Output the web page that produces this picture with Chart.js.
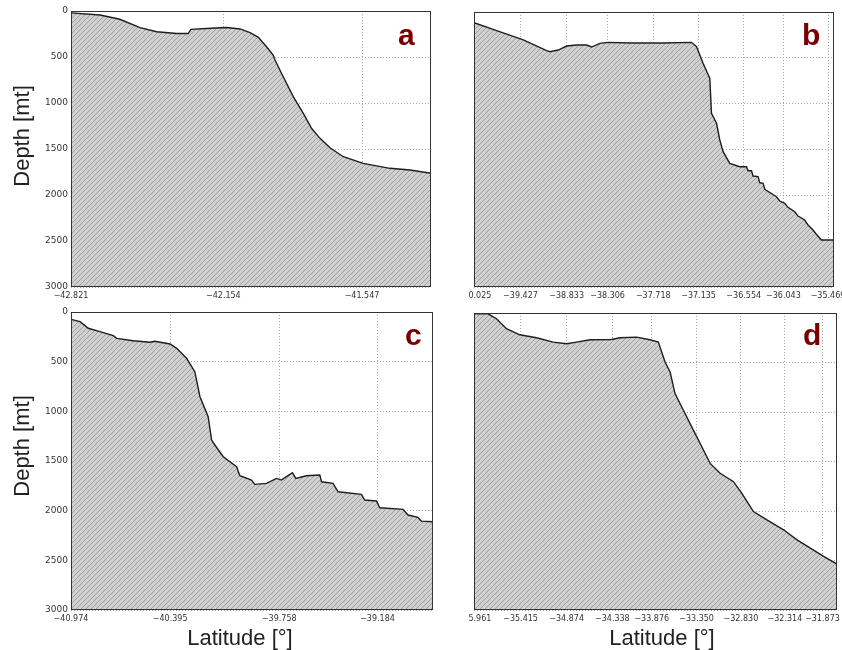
<!DOCTYPE html>
<html>
<head>
<meta charset="utf-8">
<script src="https://cdn.jsdelivr.net/npm/chart.js@4.4.1/dist/chart.umd.min.js"></script>
<style>
  html, body { margin: 0; padding: 0; background: #fff; }
  #wrap { position: relative; width: 842px; height: 650px; overflow: hidden; background: #fff; }
  canvas { position: absolute; }
  .lbl { position: absolute; font-family: "Liberation Sans", Arial, sans-serif; font-size: 22px; color: #222; white-space: nowrap; transform: translate(-50%, -50%); }
  .rot { transform: translate(-50%, -50%) rotate(-90deg); }
</style>
</head>
<body>
<div id="wrap">
  <canvas id="cA" width="440" height="300" style="left:0;top:0"></canvas>
  <canvas id="cB" width="373" height="300" style="left:469px;top:0"></canvas>
  <canvas id="cC" width="440" height="350" style="left:0;top:300px"></canvas>
  <canvas id="cD" width="373" height="350" style="left:469px;top:300px"></canvas>
  <div class="lbl rot" style="left:22px;top:136px">Depth [mt]</div>
  <div class="lbl rot" style="left:22px;top:446px">Depth [mt]</div>
  <div class="lbl" style="left:240px;top:638px">Latitude [°]</div>
  <div class="lbl" style="left:662px;top:638px">Latitude [°]</div>
</div>
<script>
// ---------- DATA ----------
// Panel a
const latA   = [-42.821,-42.694,-42.607,-42.519,-42.446,-42.358,-42.308,-42.296,-42.227,-42.140,-42.081,-42.037,-42.001,-41.965,-41.936,-41.928,-41.892,-41.848,-41.804,-41.768,-41.731,-41.687,-41.629,-41.542,-41.425,-41.337,-41.245];
const depthA = [20,43,90,180,225,245,245,200,190,180,195,235,287,388,478,533,714,931,1112,1275,1384,1486,1584,1656,1710,1728,1764];
const tickLatA   = [-42.821,-42.154,-41.547];
const tickLabelA = ["\u221242.821","\u221242.154","\u221241.547"];

// Panel b
const latB   = [-40.025,-39.733,-39.391,-39.090,-39.048,-38.941,-38.833,-38.704,-38.576,-38.512,-38.405,-38.298,-38.019,-37.591,-37.226,-37.161,-37.077,-36.990,-36.969,-36.904,-36.862,-36.819,-36.733,-36.605,-36.518,-36.498,-36.454,-36.434,-36.369,-36.348,-36.305,-36.283,-36.133,-36.090,-36.026,-35.984,-35.897,-35.855,-35.769,-35.726,-35.662,-35.619,-35.554,-35.392];
const depthB = [116,204,305,422,433,415,371,360,360,382,342,331,338,338,331,378,560,724,1105,1214,1396,1524,1651,1688,1688,1731,1731,1789,1796,1862,1869,1934,2015,2062,2087,2131,2179,2226,2269,2324,2378,2425,2487,2487];
const tickLatB   = [-40.025,-39.427,-38.833,-38.306,-37.718,-37.135,-36.554,-36.043,-35.469];
const tickLabelB = ["\u221240.025","\u221239.427","\u221238.833","\u221238.306","\u221237.718","\u221237.135","\u221236.554","\u221236.043","\u221235.469"];

// Panel c
const latC   = [-40.974,-40.921,-40.873,-40.805,-40.727,-40.707,-40.611,-40.513,-40.484,-40.396,-40.357,-40.299,-40.251,-40.221,-40.173,-40.153,-40.134,-40.085,-40.007,-39.988,-39.920,-39.901,-39.832,-39.774,-39.745,-39.716,-39.681,-39.661,-39.599,-39.521,-39.511,-39.444,-39.414,-39.278,-39.259,-39.190,-39.171,-39.035,-39.006,-38.948,-38.928,-38.860];
const depthC = [74,97,164,198,238,265,289,305,295,322,366,466,601,853,1054,1289,1339,1457,1558,1648,1692,1735,1725,1675,1692,1658,1618,1675,1648,1641,1709,1725,1810,1836,1893,1903,1971,1987,2044,2068,2105,2112];
const tickLatC   = [-40.974,-40.395,-39.758,-39.184];
const tickLabelC = ["\u221240.974","\u221240.395","\u221239.758","\u221239.184"];

// Panel d
const latD   = [-35.961,-35.796,-35.698,-35.580,-35.424,-35.228,-35.033,-34.875,-34.758,-34.601,-34.346,-34.249,-34.053,-33.897,-33.799,-33.720,-33.661,-33.603,-33.505,-33.388,-33.289,-33.191,-33.074,-32.917,-32.819,-32.683,-32.525,-32.330,-32.172,-32.016,-31.860,-31.703];
const depthD = [8,8,58,159,220,250,294,310,294,270,267,250,244,270,294,495,596,814,982,1183,1351,1519,1619,1704,1821,2006,2090,2190,2291,2375,2459,2536];
const tickLatD   = [-35.961,-35.415,-34.874,-34.338,-33.876,-33.350,-32.830,-32.314,-31.873];
const tickLabelD = ["\u221235.961","\u221235.415","\u221234.874","\u221234.338","\u221233.876","\u221233.350","\u221232.830","\u221232.314","\u221231.873"];

const depthTicks = [0,500,1000,1500,2000,2500,3000];

// ---------- STYLE ----------
function hatch() {
  const p = document.createElement('canvas');
  p.width = 5; p.height = 5;
  const g = p.getContext('2d');
  g.fillStyle = '#d0d0d0';
  g.fillRect(0,0,5,5);
  g.strokeStyle = '#a2a2a2';
  g.lineWidth = 1;
  g.beginPath();
  g.moveTo(-1,6); g.lineTo(6,-1);
  g.moveTo(-1,1); g.lineTo(1,-1);
  g.moveTo(4,6); g.lineTo(6,4);
  g.stroke();
  return g.createPattern(p, 'repeat');
}
const pattern = hatch();

const framePlugin = {
  id: 'frame',
  afterDraw(chart, args, opts) {
    const a = chart.chartArea, c = chart.ctx;
    c.save();
    c.strokeStyle = '#333';
    c.lineWidth = 1;
    c.strokeRect(Math.round(a.left)+0.5, Math.round(a.top)+0.5, Math.round(a.right-a.left)-1, Math.round(a.bottom-a.top)-1);
    if (opts.letter) {
      c.fillStyle = '#7a0000';
      c.font = 'bold 30px "Liberation Sans", Arial, sans-serif';
      c.textBaseline = 'alphabetic';
      c.fillText(opts.letter, opts.lx, opts.ly);
    }
    c.restore();
  }
};

function make(id, lat, depth, tickLat, tickLabel, xmin, xmax, cfg) {
  new Chart(document.getElementById(id), {
    type: 'line',
    data: {
      datasets: [{
        data: lat.map((x, i) => ({ x: x, y: depth[i] })),
        borderColor: '#1e1e1e',
        borderWidth: 1.4,
        backgroundColor: pattern,
        fill: { value: 3000 },
        pointRadius: 0,
        tension: 0
      }]
    },
    options: {
      responsive: false,
      animation: false,
      devicePixelRatio: 1,
      layout: { padding: { left: 0, top: cfg.pt, right: cfg.pr, bottom: 0 } },
      plugins: {
        legend: { display: false },
        tooltip: { enabled: false },
        frame: { letter: cfg.letter, lx: cfg.lx, ly: cfg.ly }
      },
      scales: {
        x: {
          type: 'linear',
          min: xmin, max: xmax,
          z: 1,
          border: { display: false, dash: [1, 2] },
          grid: { color: '#a8a8a8', lineWidth: 1, drawTicks: false },
          afterBuildTicks: s => { s.ticks = tickLat.map(v => ({ value: v })); },
          afterFit: s => { s.height = cfg.xh; s.paddingLeft = 0; s.paddingRight = 0; },
          ticks: {
            autoSkip: false, maxRotation: 0, minRotation: 0, padding: 4,
            color: '#333',
            font: { family: '"DejaVu Sans", sans-serif', size: 8 },
            callback: (v, i) => tickLabel[i]
          }
        },
        y: {
          type: 'linear',
          reverse: true,
          min: 0, max: 3000,
          z: 1,
          border: { display: false, dash: [1, 2] },
          grid: { color: '#a8a8a8', lineWidth: 1, drawTicks: false },
          afterBuildTicks: s => { s.ticks = depthTicks.map(v => ({ value: v })); },
          afterFit: s => { s.width = cfg.yw; s.paddingTop = 0; s.paddingBottom = 0; },
          ticks: {
            display: cfg.showY, padding: 3,
            color: '#333',
            font: { family: '"DejaVu Sans", sans-serif', size: 9 },
            callback: v => String(v)
          }
        }
      }
    },
    plugins: [framePlugin]
  });
}

make('cA', latA, depthA, tickLatA, tickLabelA, -42.821, -41.245,
     { pt: 11, pr: 9, xh: 13, yw: 71, showY: true, letter: 'a', lx: 398, ly: 45 });
make('cB', latB, depthB, tickLatB, tickLabelB, -40.025, -35.392,
     { pt: 12, pr: 8, xh: 13, yw: 5, showY: false, letter: 'b', lx: 802 - 469, ly: 45 });
make('cC', latC, depthC, tickLatC, tickLabelC, -40.974, -38.860,
     { pt: 12, pr: 7, xh: 40, yw: 71, showY: true, letter: 'c', lx: 405, ly: 45 });
make('cD', latD, depthD, tickLatD, tickLabelD, -35.961, -31.703,
     { pt: 13, pr: 5, xh: 40, yw: 5, showY: false, letter: 'd', lx: 803 - 469, ly: 45 });
</script>
</body>
</html>
